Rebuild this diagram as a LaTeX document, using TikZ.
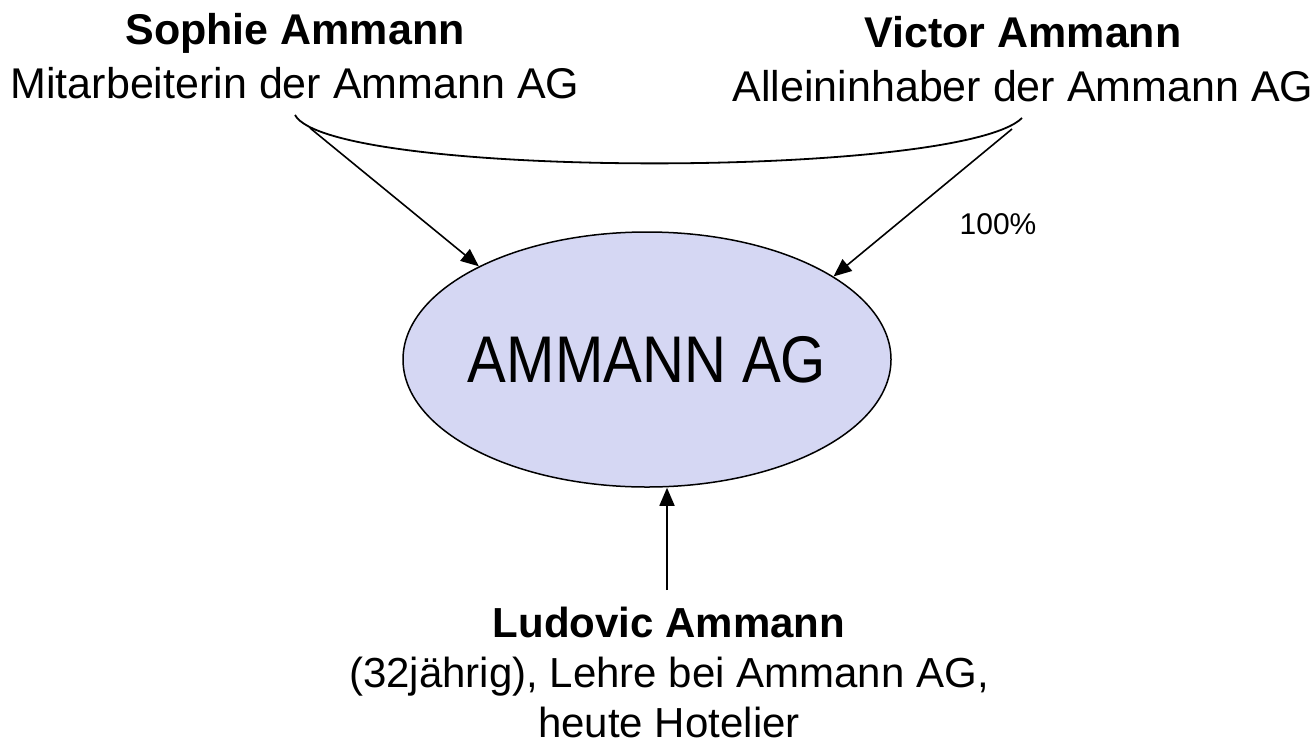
\documentclass[tikz,border=0pt]{standalone}
\usepackage{fontspec}
\setmainfont{Liberation Sans}
\usetikzlibrary{shapes.geometric,arrows.meta}
\definecolor{ellfill}{RGB}{213,215,243}
\begin{document}
\begin{tikzpicture}[x=1pt,y=-1pt,
  lbl/.style={align=center,font=\fontsize{43}{54}\selectfont,inner sep=0pt},
  conn/.style={line width=1.6pt,-{Triangle[length=18pt,width=15pt]}},
  link/.style={line width=1.8pt}
  ]
\useasboundingbox (0,0) rectangle (1313,747);
\node[ellipse,draw,line width=1.5pt,fill=ellfill,minimum width=488pt,minimum height=255pt,inner sep=0pt] (ag) at (647,359.5) {};
\node[inner sep=0pt,font=\fontsize{66}{70}\selectfont,xscale=0.88] (agtext) at (ag.center) {AMMANN AG};
\node[lbl] (sophie) at (295,56) {\textbf{Sophie Ammann}\\Mitarbeiterin der Ammann AG};
\node[lbl] (victor) at (1023,59) {\textbf{Victor Ammann}\\Alleininhaber der Ammann AG};
\node[lbl,font=\fontsize{42}{50}\selectfont] (ludovic) at (669,672) {\textbf{Ludovic Ammann}\\(32jährig), Lehre bei Ammann AG,\\heute Hotelier};
\node[inner sep=0pt,font=\fontsize{30}{36}\selectfont] (pct) at (998,224) {100\%};
\coordinate (sL) at (295,115);
\coordinate (sR) at (1022,118);
\coordinate (aL) at (310,128);
\coordinate (aR) at (1012,129);
\coordinate (lb) at (667,590);
\draw[link] (sL) .. controls (330,179) and (960,179) .. (sR);
\draw[conn] (aL) -- (ag.151.3);
\draw[conn] (aR) -- (ag.24.4);
\draw[conn] (lb) -- (lb |- ag.south);
\end{tikzpicture}
\end{document}
